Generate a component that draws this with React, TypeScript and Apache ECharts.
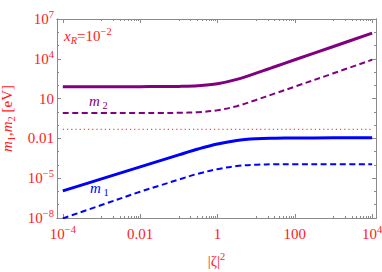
import React, { useEffect, useRef } from "react";
import * as echarts from "echarts";

// |zeta|^2 sample points
const zeta2 = [1e-4, 1e-3, 1e-2, 0.0316, 0.1, 0.316, 1, 3.16, 10, 31.6, 100, 1000, 1e4];
// masses in eV
const m2Solid = [79.4, 79.4, 79.4, 81, 83, 93, 132, 282, 832, 2630, 8510, 85100, 851000];
const m2Dashed = [0.81, 0.81, 0.81, 0.83, 0.85, 0.955, 1.32, 2.69, 7.94, 25.1, 79.4, 813, 8510];
const m1Solid = [1.1e-6, 8.9e-6, 7.2e-5, 2.04e-4, 5.75e-4, 1.58e-3, 3.8e-3, 7.08e-3, 9.33e-3, 0.0102, 0.0107, 0.011, 0.011];
const m1Dashed = [9.3e-9, 9.5e-8, 9.5e-7, 2.75e-6, 7.9e-6, 2.19e-5, 4.8e-5, 8.3e-5, 1.05e-4, 1.12e-4, 1.15e-4, 1.15e-4, 1.15e-4];
const refX = [1e-4, 1e4];
const refY = [0.048, 0.048];

// tick exponents
const xMajor = [-4, -2, 0, 2, 4];
const yMajor = [-8, -5, -2, 1, 4, 7];
const xLabelText: Record<string, string> = { "-4": "10|−4", "-2": "0.01", "0": "1", "2": "100", "4": "10|4" };
const yLabelText: Record<string, string> = { "-8": "10|−8", "-5": "10|−5", "-2": "0.01", "1": "10", "4": "10|4", "7": "10|7" };

const SERIF = "'Liberation Serif', 'Times New Roman', serif";
const RED = "#ff1a1a";
const PURPLE = "#800080";
const BLUE = "#0000ff";
const FRAME = "#8a8a8a";

function fmt(s: string) {
  if (s.indexOf("|") >= 0) {
    const [b, e] = s.split("|");
    return `{b|${b}}{s|${e}}`;
  }
  return `{b|${s}}`;
}

const richLabel = {
  b: { fontSize: 15, fontFamily: SERIF, color: RED, lineHeight: 20 },
  s: { fontSize: 10.5, fontFamily: SERIF, color: RED, lineHeight: 11, verticalAlign: "top" as const },
};

function toPts(xs: number[], ys: number[]) {
  return xs.map((x, i) => [Math.log10(x), Math.log10(ys[i])]);
}

export default function App() {
  const ref = useRef<HTMLDivElement>(null);
  useEffect(() => {
    if (!ref.current) return;
    const chart = echarts.init(ref.current, null, { renderer: "svg" });

    const xMinor: number[] = [];
    [-3, -1, 1, 3].forEach((k) => {
      for (let j = 1; j <= 9; j++) xMinor.push(k + Math.log10(j));
    });
    const yMinor: number[] = [];
    for (let k = -8; k <= 7; k++) if (yMajor.indexOf(k) < 0) yMinor.push(k);

    const xBase = {
      type: "value" as const,
      min: -4.15,
      max: 4.1,
      splitLine: { show: false },
      axisLine: { show: true, onZero: false, lineStyle: { color: FRAME, width: 1 } },
    };
    const yBase = {
      type: "value" as const,
      min: -8,
      max: 7,
      splitLine: { show: false },
      axisLine: { show: true, onZero: false, lineStyle: { color: FRAME, width: 1 } },
    };

    const xAxes = [
      {
        ...xBase,
        position: "bottom",
        axisTick: { show: true, inside: true, length: 4, customValues: xMajor, lineStyle: { color: FRAME } },
        axisLabel: {
          show: true,
          customValues: xMajor,
          margin: 6,
          formatter: (v: number) => fmt(xLabelText[String(Math.round(v))] || ""),
          rich: richLabel,
        },
        name: "{b|\u007C\u03B6\u007C}{s|2}",
        nameLocation: "middle",
        nameGap: 33,
        nameTextStyle: { rich: richLabel },
      },
      {
        ...xBase,
        position: "bottom",
        axisTick: { show: true, inside: true, length: 2, customValues: xMinor, lineStyle: { color: FRAME } },
        axisLabel: { show: false },
      },
      {
        ...xBase,
        position: "top",
        axisTick: { show: true, inside: true, length: 4, customValues: xMajor, lineStyle: { color: FRAME } },
        axisLabel: { show: false },
      },
      {
        ...xBase,
        position: "top",
        axisTick: { show: true, inside: true, length: 2, customValues: xMinor, lineStyle: { color: FRAME } },
        axisLabel: { show: false },
      },
    ];

    const yAxes = [
      {
        ...yBase,
        position: "left",
        axisTick: { show: true, inside: true, length: 4, customValues: yMajor, lineStyle: { color: FRAME } },
        axisLabel: {
          show: true,
          customValues: yMajor,
          margin: 3,
          formatter: (v: number) => fmt(yLabelText[String(Math.round(v))] || ""),
          rich: richLabel,
        },
        name: "{m|m}{u|1}{b|,}{m|m}{u|2}{b| [eV]}",
        nameLocation: "middle",
        nameGap: 40,
        nameTextStyle: {
          rich: {
            b: { fontSize: 15, fontFamily: SERIF, color: RED, lineHeight: 20 },
            m: { fontSize: 15, fontFamily: SERIF, fontStyle: "italic", color: RED, lineHeight: 20 },
            u: { fontSize: 10.5, fontFamily: SERIF, color: RED, lineHeight: 12, verticalAlign: "bottom" },
          },
        },
      },
      {
        ...yBase,
        position: "left",
        axisTick: { show: true, inside: true, length: 2, customValues: yMinor, lineStyle: { color: FRAME } },
        axisLabel: { show: false },
      },
      {
        ...yBase,
        position: "right",
        axisTick: { show: true, inside: true, length: 4, customValues: yMajor, lineStyle: { color: FRAME } },
        axisLabel: { show: false },
      },
      {
        ...yBase,
        position: "right",
        axisTick: { show: true, inside: true, length: 2, customValues: yMinor, lineStyle: { color: FRAME } },
        axisLabel: { show: false },
      },
    ];

    const line = (data: number[][], color: string, width: number, type: any) => ({
      type: "line",
      data,
      xAxisIndex: 0,
      yAxisIndex: 0,
      showSymbol: false,
      symbol: "none",
      smooth: 0.35,
      lineStyle: { color, width, type },
      z: 3,
    });

    chart.setOption({
      animation: false,
      grid: { left: 57, top: 19, width: 319, height: 199, containLabel: false, outerBoundsMode: "none" },
      xAxis: xAxes,
      yAxis: yAxes,
      series: [
        { ...line(toPts(refX, refY), "#ff4a4a", 1.2, [1.2, 3]), smooth: false, z: 2 },
        line(toPts(zeta2, m2Solid), PURPLE, 3, "solid"),
        line(toPts(zeta2, m2Dashed), PURPLE, 2, [6, 3.5]),
        line(toPts(zeta2, m1Solid), BLUE, 3, "solid"),
        line(toPts(zeta2, m1Dashed), BLUE, 2, [6, 3.5]),
      ],
      graphic: [
        {
          type: "text",
          left: 64,
          top: 26,
          style: {
            text: "{x|x}{r|R}{b|=10}{s|−2}",
            rich: {
              x: { fontSize: 15, fontFamily: SERIF, fontStyle: "italic", fill: RED, lineHeight: 20 },
              r: { fontSize: 10.5, fontFamily: SERIF, fontStyle: "italic", fill: RED, lineHeight: 12, verticalAlign: "bottom" },
              b: { fontSize: 15, fontFamily: SERIF, fill: RED, lineHeight: 20 },
              s: { fontSize: 10.5, fontFamily: SERIF, fill: RED, lineHeight: 11, verticalAlign: "top" },
            },
          },
        },
        {
          type: "text",
          left: 89,
          top: 93,
          style: {
            text: "{m|m}{s| 2}",
            rich: {
              m: { fontSize: 15, fontFamily: SERIF, fontStyle: "italic", fill: PURPLE, lineHeight: 20 },
              s: { fontSize: 10.5, fontFamily: SERIF, fill: PURPLE, lineHeight: 12, verticalAlign: "bottom" },
            },
          },
        },
        {
          type: "text",
          left: 90,
          top: 180,
          style: {
            text: "{m|m}{s| 1}",
            rich: {
              m: { fontSize: 15, fontFamily: SERIF, fontStyle: "italic", fill: BLUE, lineHeight: 20 },
              s: { fontSize: 10.5, fontFamily: SERIF, fill: BLUE, lineHeight: 12, verticalAlign: "bottom" },
            },
          },
        },
      ],
    });
    return () => chart.dispose();
  }, []);
  return <div ref={ref} style={{ width: 382, height: 272, position: "absolute", left: 0, top: 0 }} />;
}
